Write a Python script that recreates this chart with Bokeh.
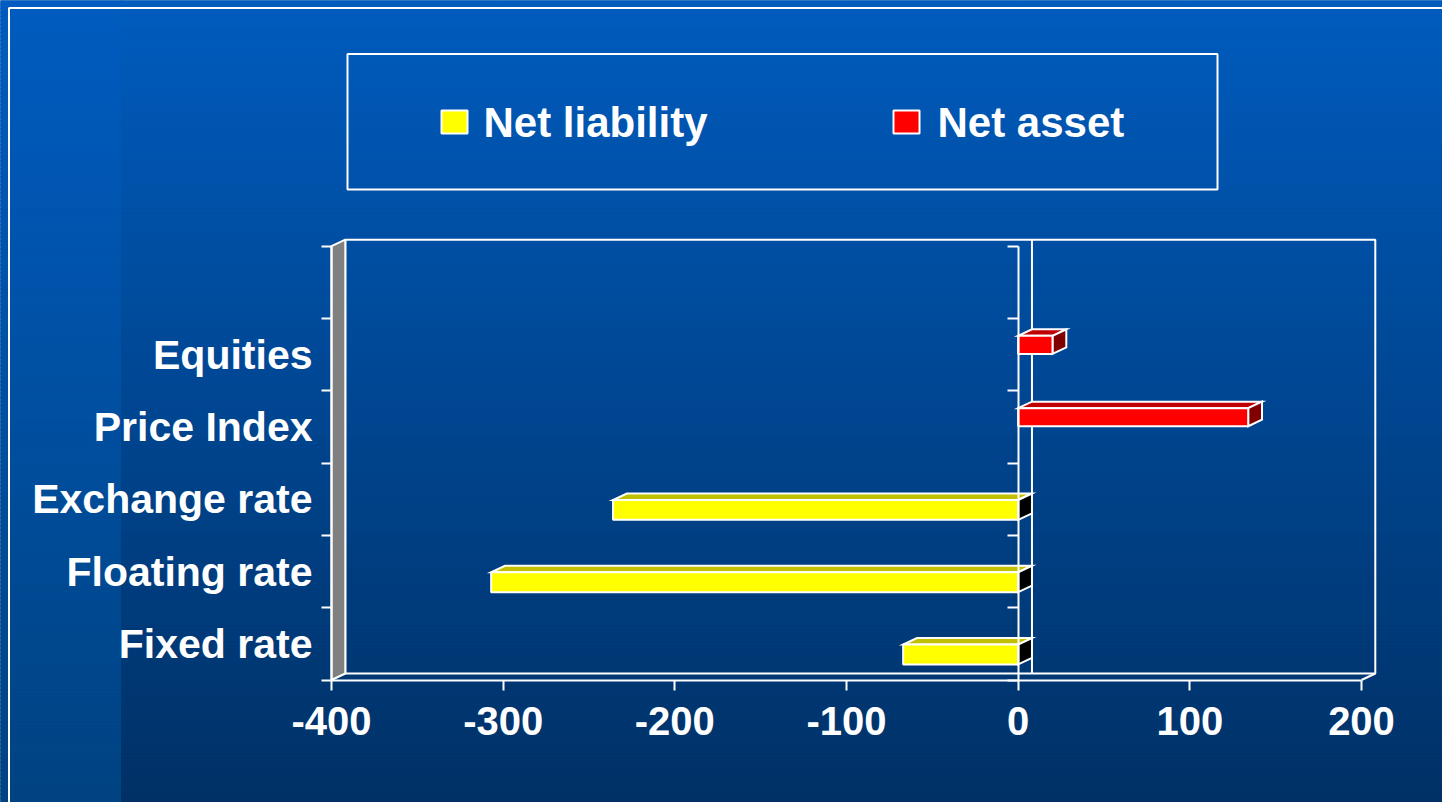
import numpy as np
from bokeh.plotting import figure
from bokeh.models import Range1d, LinearAxis, FixedTicker, ColumnDataSource
from bokeh.core.properties import value
from bokeh.embed import file_html
from bokeh.resources import INLINE

# ---- data -------------------------------------------------------------
categories = ["Fixed rate", "Floating rate", "Exchange rate", "Price Index", "Equities"]
net_liability = [-67, -307, -236, 0, 0]
net_asset = [0, 0, 0, 134, 20]
x_ticks = [-400, -300, -200, -100, 0, 100, 200]
series_names = ["Net liability", "Net asset"]

# ---- canvas geometry (pixels) -----------------------------------------
W, H = 1442, 802
PX_LEFT, PX_RIGHT = 331.0, 1361.0      # front plane, value axis extent
PY_BOTTOM, PY_TOP = 679.5, 245.7       # front plane, category axis extent
X_MIN, X_MAX = -400, 200
N_SLOTS = 6                            # five categories plus an empty top slot
SX = (PX_RIGHT - PX_LEFT) / (X_MAX - X_MIN)
SY = (PY_BOTTOM - PY_TOP) / N_SLOTS


def xd(px):
    return X_MIN + (px - PX_LEFT) / SX


def yd(py):
    return (PY_BOTTOM - py) / SY


DEPTH_X = 13.8 / SX                    # 3-D depth offset in data units
DEPTH_Y = 6.5 / SY

FONT = "Liberation Sans"
WHITE = "white"

p = figure(width=W, height=H, output_backend="svg", toolbar_location=None,
           x_range=Range1d(xd(0), xd(W)), y_range=Range1d(yd(H), yd(0)),
           x_axis_location=None, y_axis_location=None, min_border=0)
p.outline_line_color = None
p.background_fill_color = "#00458f"
p.border_fill_color = "#00458f"


# ---- slide background: vertical gradient with a lighter left strip ----
def blend(c0, c1, t):
    r, g, b = (int(round(a + (b_ - a) * t)) for a, b_ in zip(c0, c1))
    return "#%02x%02x%02x" % (r, g, b)


n_bands = 200
edges = np.linspace(0, H, n_bands + 1)
bg = dict(left=[], right=[], top=[], bottom=[], color=[])
for x0, x1, c_top, c_bot in [(0, 121, (0, 92, 192), (0, 67, 130)),
                             (121, W, (0, 92, 190), (0, 49, 102))]:
    for i in range(n_bands):
        t = (i + 0.5) / n_bands
        bg["left"].append(xd(x0))
        bg["right"].append(xd(x1))
        bg["top"].append(yd(edges[i] - 0.5))
        bg["bottom"].append(yd(edges[i + 1] + 0.5))
        bg["color"].append(blend(c_top, c_bot, t))
p.quad(left="left", right="right", top="top", bottom="bottom", color="color",
       source=ColumnDataSource(bg))

# slide frame line
p.line(x=[xd(8.5), xd(8.5), xd(W + 5)], y=[yd(H + 5), yd(7.5), yd(7.5)],
       line_color=WHITE, line_width=2)

# ---- 3-D walls ---------------------------------------------------------
p.quad(left=X_MIN + DEPTH_X, right=X_MAX + DEPTH_X,
       bottom=DEPTH_Y, top=N_SLOTS + DEPTH_Y,
       fill_color=None, line_color=WHITE, line_width=2)
p.patch(x=[X_MIN, X_MIN + DEPTH_X, X_MIN + DEPTH_X, X_MIN],
        y=[0, DEPTH_Y, N_SLOTS + DEPTH_Y, N_SLOTS],
        fill_color="#808080", line_color=WHITE, line_width=2)
p.line(x=[X_MAX, X_MAX + DEPTH_X], y=[0, DEPTH_Y], line_color=WHITE, line_width=2)
p.line(x=[DEPTH_X, DEPTH_X], y=[DEPTH_Y, N_SLOTS + DEPTH_Y],
       line_color=WHITE, line_width=2)

# ---- 3-D bars ----------------------------------------------------------
styles = {
    "Net liability": dict(vals=net_liability, lo=0.215, hi=0.49,
                          front="#ffff00", top="#c0c000", side="#000000"),
    "Net asset": dict(vals=net_asset, lo=0.51, hi=0.76,
                      front="#ff0000", top="#c00000", side="#800000"),
}
front = dict(left=[], right=[], bottom=[], top=[], color=[])
faces = dict(xs=[], ys=[], color=[])
for name in series_names:
    st = styles[name]
    for i, v in enumerate(st["vals"]):
        if v == 0:
            continue
        x0, x1 = min(0, v), max(0, v)
        y0, y1 = i + st["lo"], i + st["hi"]
        front["left"].append(x0)
        front["right"].append(x1)
        front["bottom"].append(y0)
        front["top"].append(y1)
        front["color"].append(st["front"])
        faces["xs"].append([x0, x1, x1 + DEPTH_X, x0 + DEPTH_X])
        faces["ys"].append([y1, y1, y1 + DEPTH_Y, y1 + DEPTH_Y])
        faces["color"].append(st["top"])
        faces["xs"].append([x1, x1 + DEPTH_X, x1 + DEPTH_X, x1])
        faces["ys"].append([y0, y0 + DEPTH_Y, y1 + DEPTH_Y, y1])
        faces["color"].append(st["side"])
p.patches(xs="xs", ys="ys", fill_color="color", line_color=WHITE, line_width=2,
          line_join="miter", source=ColumnDataSource(faces))
p.quad(left="left", right="right", bottom="bottom", top="top", fill_color="color",
       line_color=WHITE, line_width=2, source=ColumnDataSource(front))

# ---- axes --------------------------------------------------------------
def label_style(size):
    return dict(major_label_text_font=FONT, major_label_text_font_style="bold",
                major_label_text_font_size=size, major_label_text_color=WHITE)


xaxis = LinearAxis(fixed_location=0, bounds=(X_MIN, X_MAX),
                   ticker=FixedTicker(ticks=x_ticks, minor_ticks=[]),
                   major_label_overrides={t: str(t) for t in x_ticks},
                   axis_line_color=WHITE, axis_line_width=2,
                   major_tick_in=0, major_tick_out=10,
                   major_tick_line_color=WHITE, major_tick_line_width=2,
                   minor_tick_line_color=None, major_label_standoff=17,
                   **label_style("40px"))
p.add_layout(xaxis, "below")

centers = [i + 0.5 for i in range(len(categories))]
bounds_ticks = list(range(N_SLOTS + 1))
yaxis = LinearAxis(fixed_location=X_MIN, bounds=(0, N_SLOTS),
                   ticker=FixedTicker(ticks=centers, minor_ticks=bounds_ticks),
                   major_label_overrides={c: n for c, n in zip(centers, categories)},
                   axis_line_color=WHITE, axis_line_width=2,
                   major_tick_in=0, major_tick_out=0,
                   minor_tick_in=0, minor_tick_out=10,
                   minor_tick_line_color=WHITE, minor_tick_line_width=2,
                   major_label_standoff=9, **label_style("41px"))
p.add_layout(yaxis, "left")

zero_axis = LinearAxis(fixed_location=0, bounds=(0, N_SLOTS),
                       ticker=FixedTicker(ticks=[], minor_ticks=bounds_ticks),
                       axis_line_color=WHITE, axis_line_width=2,
                       major_tick_in=0, major_tick_out=0,
                       minor_tick_in=0, minor_tick_out=11,
                       minor_tick_line_color=WHITE, minor_tick_line_width=2)
p.add_layout(zero_axis, "left")

# ---- legend ------------------------------------------------------------
p.quad(left=xd(347), right=xd(1217), top=yd(53.5), bottom=yd(189),
       fill_color=None, line_color=WHITE, line_width=2)
leg_x = [441, 893]
leg_text_x = [483, 937]
for name, sx, tx in zip(series_names, leg_x, leg_text_x):
    p.quad(left=xd(sx), right=xd(sx + 26), top=yd(110), bottom=yd(133),
           fill_color=styles[name]["front"], line_color=WHITE, line_width=2)
    p.text(x=[xd(tx)], y=[yd(122)], text=[name], text_font=value(FONT),
           text_font_style="bold", text_font_size="42px", text_color=WHITE,
           text_baseline="middle", text_align="left")

open("out.html", "w").write(file_html(p, INLINE))
